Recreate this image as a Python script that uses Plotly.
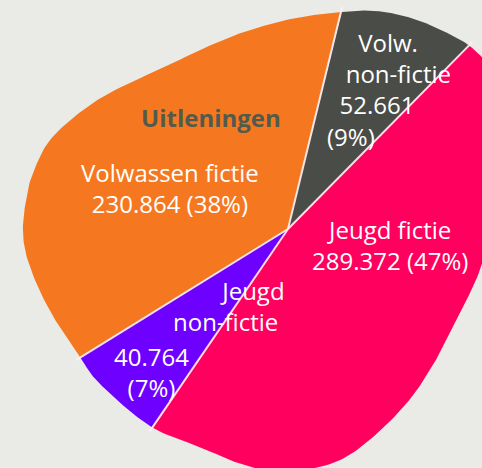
import numpy as np
import plotly.graph_objects as go

# ---- data ----
categories = ["Volw. non-fictie", "Jeugd fictie", "Jeugd non-fictie", "Volwassen fictie"]
values = [52661, 289372, 40764, 230864]
title_text = "Uitleningen"

# ---- style ----
colors = ["#4A4C47", "#FF005E", "#6E00FF", "#F57821"]
BG = "#EAEBE6"
W, H = 482, 468
CX, CY = 288, 229          # pie centre (axis units)
ROTATION = 13.7            # start angle, clockwise from 12 o'clock
FS = 24
NB = "&nbsp;"
# outline of the blob that clips the pie
BLOB = [(341, 12), (375, 11), (408, 17), (441, 30), (471, 47), (490, 72), (500, 130),
        (498, 200), (481, 267), (458, 317), (441, 351), (414, 394), (384, 427),
        (351, 454), (320, 467), (280, 472), (241, 464), (200, 447), (150, 426),
        (100, 384), (80, 357), (50, 311), (30, 267), (23, 234), (26, 200), (33, 173),
        (50, 140), (83, 110), (117, 89), (167, 66), (200, 50), (241, 33), (291, 19)]


def catmull(points, n=30):
    p = np.array(points, float)
    m = len(p)
    out = []
    for i in range(m):
        p0, p1, p2, p3 = p[(i - 1) % m], p[i], p[(i + 1) % m], p[(i + 2) % m]
        for t in np.linspace(0, 1, n, endpoint=False):
            t2, t3 = t * t, t * t * t
            out.append(0.5 * ((2 * p1) + (-p0 + p2) * t + (2 * p0 - 5 * p1 + 4 * p2 - p3) * t2
                              + (-p0 + 3 * p1 - 3 * p2 + p3) * t3))
    return np.array(out)


outline = catmull(BLOB)
dx = outline[:, 0] - CX
dy = outline[:, 1] - CY
th = np.degrees(np.arctan2(dx, -dy)) % 360
rr = np.hypot(dx, dy)
order = np.argsort(th)
th_s, r_s = th[order], rr[order]


def radius(theta):
    return np.interp(np.asarray(theta) % 360, th_s, r_s, period=360)


def xy(theta, r):
    t = np.radians(theta)
    return CX + r * np.sin(t), CY - r * np.cos(t)


total = sum(values)
fracs = [v / total for v in values]
starts = ROTATION + 360 * np.concatenate([[0], np.cumsum(fracs)[:-1]])

fig = go.Figure()
for cat, v, f, s, c in zip(categories, values, fracs, starts, colors):
    thetas = np.linspace(s, s + f * 360, 200)
    px, py = xy(thetas, radius(thetas))
    fig.add_trace(go.Scatter(x=np.concatenate([[CX], px, [CX]]), y=np.concatenate([[CY], py, [CY]]),
                             fill="toself", fillcolor=c, mode="lines", line=dict(width=0, color=c),
                             name=cat, hoverinfo="name", showlegend=False))

# separators
for s in starts:
    ex, ey = xy(s, radius(s) + 5)
    fig.add_trace(go.Scatter(x=[CX, ex], y=[CY, ey], mode="lines",
                             line=dict(color="rgba(255,240,245,0.9)", width=2),
                             hoverinfo="skip", showlegend=False))


def fmt(v):
    return f"{v:,}".replace(",", ".")


pct = [f"({round(f * 100)}%)" for f in fracs]

# label blocks: (text, x, y, xanchor, align)
labels = [
    (NB * 5 + "Volw.<br>" + NB * 3 + "non-fictie<br>" + NB * 2 + fmt(values[0]) + "<br>" + pct[0],
     325, 89, "left", "left"),
    ("Jeugd fictie<br>" + fmt(values[1]) + " " + pct[1], 390, 245, "center", "center"),
    ("Jeugd<br>non-fictie" + NB, 287, 306, "right", "right"),
    (fmt(values[2]) + "<br>" + pct[2], 151, 372, "center", "center"),
    ("Volwassen fictie<br>" + fmt(values[3]) + " " + pct[3], 170, 188, "center", "center"),
]
for txt, x, y, xa, al in labels:
    fig.add_annotation(x=x, y=y, text=txt, showarrow=False, xanchor=xa, yanchor="middle", align=al,
                       font=dict(family="Open Sans", size=FS, color="white"))

fig.add_annotation(x=211, y=117, text=f"<b>{title_text}</b>", showarrow=False,
                   font=dict(family="Open Sans", size=FS, color="#525B4B"))

fig.update_layout(width=W, height=H, margin=dict(l=0, r=0, t=0, b=0),
                  paper_bgcolor=BG, plot_bgcolor=BG,
                  xaxis=dict(range=[0, W], visible=False, fixedrange=True),
                  yaxis=dict(range=[H, 0], visible=False, fixedrange=True))
fig.write_html("out.html", config={"displayModeBar": False},
               post_script="document.body.style.margin='0';document.body.style.background='%s';" % BG)
